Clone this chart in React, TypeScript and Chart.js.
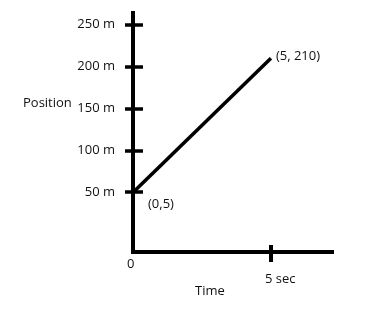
import React, { useEffect, useRef } from "react";
import { Chart, registerables } from "chart.js";

Chart.register(...registerables);

// ---- data ----
const timeValues = [0, 5];
const positionValues = [50, 210];
const pointLabels = ["(0,5)", "(5, 210)"];
const yTickValues = [50, 100, 150, 200, 250];
const yTickLabels = ["50 m", "100 m", "150 m", "200 m", "250 m"];
const xTickValues = [0, 5];
const xTickLabels: (string | string[])[] = ["0", ["", "5 sec"]];
const xCrossTickValues = [5];
const yAxisTitle = "Position";
const xAxisTitle = "Time";

const FONT = "'Open Sans', 'Noto Sans', sans-serif";
const TEXT = "#111";
const FS = 13;

const sketchPlugin = {
  id: "sketch",
  afterDraw(chart: any) {
    const { ctx, chartArea, scales } = chart;
    const xs = scales.x;
    const ys = scales.y;
    ctx.save();
    ctx.strokeStyle = "#000";
    ctx.lineCap = "butt";
    // crossing tick marks on y axis
    ctx.lineWidth = 3.5;
    yTickValues.forEach((v) => {
      const py = Math.round(ys.getPixelForValue(v));
      ctx.beginPath();
      ctx.moveTo(chartArea.left - 8, py);
      ctx.lineTo(chartArea.left + 10, py);
      ctx.stroke();
    });
    // crossing tick marks on x axis
    ctx.lineWidth = 4;
    xCrossTickValues.forEach((v) => {
      const px = Math.round(xs.getPixelForValue(v));
      ctx.beginPath();
      ctx.moveTo(px, chartArea.bottom - 7);
      ctx.lineTo(px, chartArea.bottom + 10);
      ctx.stroke();
    });
    // point annotations
    ctx.fillStyle = TEXT;
    ctx.font = `${FS}px ${FONT}`;
    ctx.textBaseline = "middle";
    ctx.textAlign = "left";
    const offsets = [
      [15, 12],
      [5, -2],
    ];
    timeValues.forEach((t, i) => {
      const px = xs.getPixelForValue(t);
      const py = ys.getPixelForValue(positionValues[i]);
      ctx.fillText(pointLabels[i], px + offsets[i][0], py + offsets[i][1]);
    });
    // axis titles
    ctx.fillText(yAxisTitle, 23, 103);
    ctx.fillText(xAxisTitle, 195, 291);
    ctx.restore();
  },
};

export default function App() {
  const ref = useRef<HTMLCanvasElement>(null);

  useEffect(() => {
    if (!ref.current) return;
    const chart = new Chart(ref.current, {
      type: "scatter",
      data: {
        datasets: [
          {
            data: timeValues.map((x, i) => ({ x, y: positionValues[i] })),
            showLine: true,
            borderColor: "#000",
            borderWidth: 3.5,
            pointRadius: 0,
            fill: false,
          },
        ],
      },
      options: {
        animation: false,
        responsive: false,
        devicePixelRatio: 1,
        layout: { padding: { left: 0, right: 52, top: 13, bottom: 0 } },
        plugins: {
          legend: { display: false },
          tooltip: { enabled: false },
        },
        scales: {
          x: {
            type: "linear",
            min: 0,
            max: 7.25,
            grid: { display: false, drawTicks: false },
            border: { display: true, color: "#000", width: 4 },
            afterBuildTicks: (s: any) => {
              s.ticks = xTickValues.map((v) => ({ value: v }));
            },
            afterFit: (s: any) => {
              s.height = 58;
              s.paddingLeft = 0;
              s.paddingRight = 0;
            },
            ticks: {
              autoSkip: false,
              maxRotation: 0,
              minRotation: 0,
              align: "start",
              labelOffset: -6,
              padding: 4,
              color: TEXT,
              font: { family: FONT, size: FS },
              callback: (v: any) => {
                const i = xTickValues.indexOf(Number(v));
                return i >= 0 ? xTickLabels[i] : "";
              },
            },
          },
          y: {
            type: "linear",
            min: -21,
            max: 264,
            grid: { display: false, drawTicks: false },
            border: { display: true, color: "#000", width: 4 },
            afterBuildTicks: (s: any) => {
              s.ticks = yTickValues.map((v) => ({ value: v }));
            },
            afterFit: (s: any) => {
              s.width = 133;
              s.paddingTop = 0;
              s.paddingBottom = 0;
            },
            ticks: {
              autoSkip: false,
              padding: 18,
              color: TEXT,
              font: { family: FONT, size: FS },
              callback: (v: any) => {
                const i = yTickValues.indexOf(Number(v));
                return i >= 0 ? yTickLabels[i] : "";
              },
            },
          },
        },
      },
      plugins: [sketchPlugin],
    } as any);
    return () => chart.destroy();
  }, []);

  return (
    <div
      style={{
        position: "fixed",
        left: 0,
        top: 0,
        width: 385,
        height: 310,
        background: "#fff",
      }}
    >
      <canvas
        ref={ref}
        width={385}
        height={310}
        style={{ display: "block", width: 385, height: 310 }}
      />
    </div>
  );
}
